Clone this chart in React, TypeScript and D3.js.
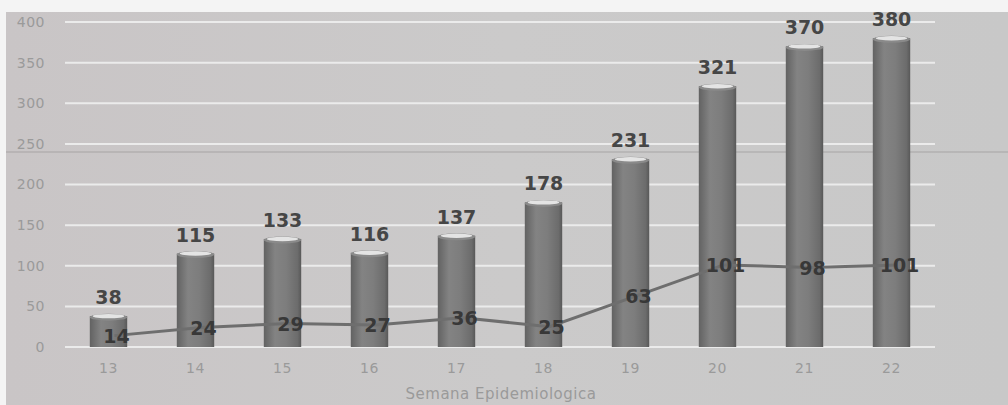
import React from 'react';
import * as d3 from 'd3';

const weeks = ['13', '14', '15', '16', '17', '18', '19', '20', '21', '22'];
const barValues = [38, 115, 133, 116, 137, 178, 231, 321, 370, 380];
const lineValues = [14, 24, 29, 27, 36, 25, 63, 101, 98, 101];
const yTicks = [0, 50, 100, 150, 200, 250, 300, 350, 400];

const W = 1008;
const H = 405;
const margin = { left: 65, right: 73, top: 22, bottom: 58 };

const App: React.FC = () => {
  const x = d3.scaleBand<string>()
    .domain(weeks)
    .range([margin.left, W - margin.right])
    .paddingInner(0.57)
    .paddingOuter(0.285);
  const y = d3.scaleLinear().domain([0, 400]).range([H - margin.bottom, margin.top]);
  const bw = x.bandwidth();
  const cx = (w: string) => (x(w) as number) + bw / 2;

  const line = d3.line<number>()
    .x((_, i) => cx(weeks[i]) + 6)
    .y(d => y(d));

  return (
    <>
      <style>{'body{margin:0}'}</style>
      <svg width={W} height={H} style={{ display: 'block', fontFamily: 'DejaVu Sans, Verdana, sans-serif' }}>
        <defs>
          <linearGradient id="bg" x1="0" y1="0" x2="1" y2="0">
            <stop offset="0" stopColor="#c9c5c6" />
            <stop offset="0.5" stopColor="#cbcaca" />
            <stop offset="1" stopColor="#c8c8c8" />
          </linearGradient>
          <linearGradient id="cyl" x1="0" y1="0" x2="1" y2="0">
            <stop offset="0" stopColor="#626262" />
            <stop offset="0.3" stopColor="#838383" />
            <stop offset="0.6" stopColor="#7d7d7d" />
            <stop offset="0.9" stopColor="#6c6c6c" />
            <stop offset="1" stopColor="#585858" />
          </linearGradient>
        </defs>
        <rect width={W} height={H} fill="#f4f4f4" />
        <rect x={6} y={12} width={W - 6} height={H - 12} fill="url(#bg)" />
        <line x1={6} x2={W} y1={152} y2={152} stroke="#9c9a9a" strokeWidth={1.5} opacity={0.5} />

        {yTicks.map(t => (
          <g key={t}>
            <line x1={margin.left} x2={W - margin.right} y1={y(t)} y2={y(t)} stroke="#ebebeb" strokeWidth={2} />
            <text x={45} y={y(t)} dy="0.35em" textAnchor="end" fontSize={14} letterSpacing={0.5} fill="#9a9a9a">{t}</text>
          </g>
        ))}

        {weeks.map((w, i) => {
          const x0 = x(w) as number;
          const top = y(barValues[i]);
          return (
            <g key={w}>
              <rect x={x0} y={top} width={bw} height={y(0) - top} fill="url(#cyl)" />
              <ellipse cx={x0 + bw / 2} cy={top + 1} rx={bw / 2} ry={3.5} fill="#8a8a8a" />
              <ellipse cx={x0 + bw / 2} cy={top} rx={bw / 2 - 3} ry={2.2} fill="#e4e4e4" />
              <text x={cx(w)} y={top - 12} textAnchor="middle" fontSize={19} fontWeight="bold" fill="#464646">{barValues[i]}</text>
              <text x={cx(w)} y={y(0) + 26} textAnchor="middle" fontSize={14} letterSpacing={0.5} fill="#9a9a9a">{w}</text>
            </g>
          );
        })}

        <path d={line(lineValues) || ''} fill="none" stroke="#6e6e6e" strokeWidth={3} />
        {weeks.map((w, i) => (
          <text key={w} x={cx(w) + 8} y={y(lineValues[i])} dy="0.38em" textAnchor="middle" fontSize={19} fontWeight="bold" fill="#383838">{lineValues[i]}</text>
        ))}

        <text x={501} y={399} textAnchor="middle" fontSize={15} letterSpacing={0.5} fill="#9a9a9a">Semana Epidemiologica</text>
      </svg>
    </>
  );
};

export default App;
